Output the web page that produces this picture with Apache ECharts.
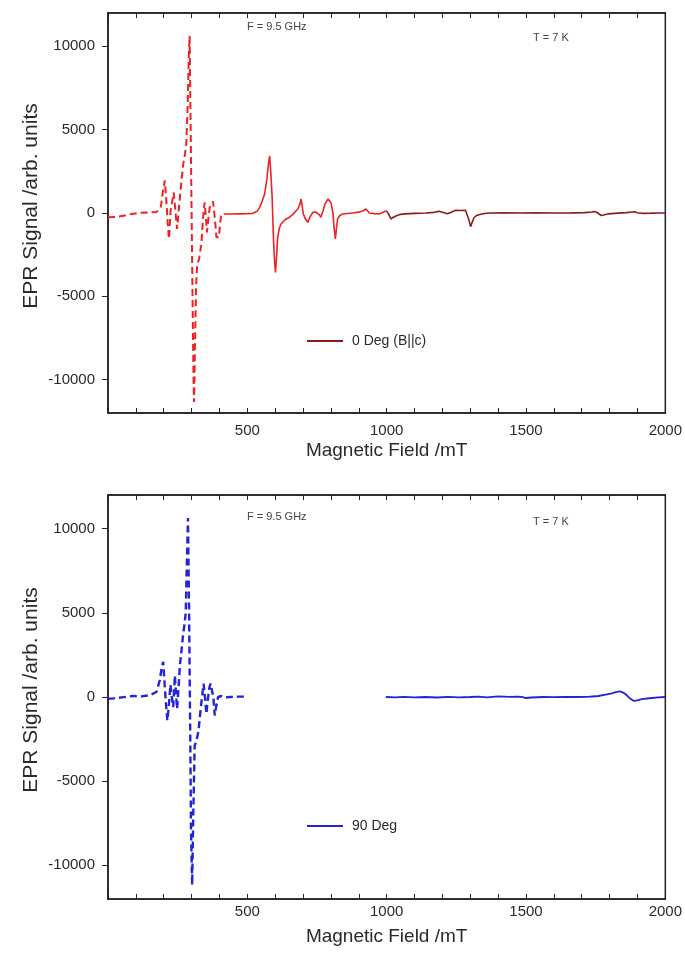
<!DOCTYPE html>
<html>
<head>
<meta charset="utf-8">
<script src="https://cdn.jsdelivr.net/npm/echarts@6/dist/echarts.min.js"></script>
<style>
html,body{margin:0;padding:0;background:#fff;}
#chart{width:685px;height:959px;}
</style>
</head>
<body>
<div id="chart"></div>
<script>
// ---- Data (Magnetic field in mT, EPR signal in arb. units) ----
// Top panel: 0 Deg (B||c)
const topDashField = [0,30,60,90,120,150,175,190,197,204,210,215,219,225,228,236,242,248,253,258,264,270,276,281,286,290,293,296,300,304,307,309,312,316,320,324,327,331,335,340,344,347,351,355,360,365,372,377,380,384,389,394,398,403,407,411,415];
const topDashSignal = [-250,-230,-150,-40,20,30,60,400,1300,1950,600,-800,-1560,200,300,1230,100,-960,0,935,2000,2935,3500,4150,6500,9500,10620,6000,0,-6000,-10000,-11345,-8000,-4500,-3055,-2900,-2755,-2300,-1860,-600,300,635,-200,-1160,-400,335,500,700,635,-400,-1460,-1500,-1460,-500,-100,-160,-60];

const topSolidField = [415,440,470,500,520,535,544,553,562,570,576,580,584,589,594,598,601,605,609,615,621,635,651,665,681,688,693,697,701,708,717,726,735,745,752,758,764,772,778,782,786,790,795,800,804,807,811,816,820,824,832,842,860,878,900,918,926,932,938,955,974,985,997,1000];
const topSolidSignal = [-60,-60,-50,-40,-20,100,335,700,1140,2000,3000,3430,2500,935,-1660,-3000,-3560,-2600,-1460,-900,-660,-400,-260,-50,240,500,840,400,-60,-350,-560,-200,40,60,40,-100,-260,150,500,635,750,840,750,635,300,40,-800,-1560,-900,-360,-150,-60,-30,0,50,150,240,120,0,-40,-60,30,120,110];

const topHighField = [1000,1008,1015,1024,1033,1050,1065,1100,1140,1170,1188,1200,1218,1232,1248,1265,1283,1289,1295,1301,1307,1313,1322,1331,1350,1373,1420,1480,1540,1600,1660,1710,1737,1745,1755,1762,1770,1782,1796,1830,1860,1880,1890,1900,1916,1950,1975,2000];
const topHighSignal = [110,-100,-360,-250,-180,-80,-50,-20,0,40,100,40,-50,50,160,150,160,40,-400,-820,-550,-300,-150,-100,-30,0,10,0,10,0,10,20,60,90,30,-80,-150,-100,-50,-10,20,60,70,20,-20,-10,0,0];

// Bottom panel: 90 Deg
const botDashField = [0,20,50,90,120,150,174,186,193,198,203,208,213,218,224,229,234,240,244,248,253,258,264,269,275,279,283,287,291,295,298,302,306,311,316,321,325,329,336,343,348,353,358,363,368,372,378,383,389,395,407,419,440,470,502];
const botDashSignal = [-100,-80,-20,60,40,100,300,1000,1800,2090,800,-400,-1400,-600,740,0,-600,1280,200,-700,500,1870,2800,3630,4400,5000,8000,10630,5000,-2000,-8000,-11170,-7000,-2880,-2700,-2590,-2000,-1300,-200,790,0,-1000,-200,500,800,850,0,-1100,-500,0,60,-30,0,20,20];

const botSolidField = [997,1030,1060,1100,1140,1180,1220,1260,1300,1331,1360,1400,1440,1470,1485,1500,1520,1560,1600,1640,1680,1720,1760,1790,1808,1825,1838,1850,1862,1874,1886,1900,1915,1935,1951,1975,2000];
const botSolidSignal = [0,-20,10,-20,0,-30,10,-20,0,20,-20,40,10,20,10,-60,-30,0,-10,10,0,10,60,150,220,300,330,250,100,-100,-230,-200,-130,-90,-60,-20,0];

// Axis settings
const yTicks = [-10000,-5000,0,5000,10000];
const xLabelVals = [500,1000,1500,2000];
const fieldMin = 0, fieldMax = 2000, sigMin = -12000, sigMax = 12000;

const topLegend = '0 Deg (B||c)';
const botLegend = '90 Deg';
const freqText = 'F = 9.5 GHz';
const tempText = 'T = 7 K';

function zip(a, b) { return a.map((v, i) => [v, b[i]]); }

const FONT = 'Liberation Sans, Arial, sans-serif';
const TXT = '#2a2a2a';

function xAxes(grid, labelMargin) {
  return [{
    type: 'value', gridIndex: grid, min: fieldMin, max: fieldMax, interval: 100,
    position: 'bottom',
    axisLine: { show: true, onZero: false, lineStyle: { color: '#222', width: 1.5 } },
    axisTick: { show: true, inside: true, length: 5, lineStyle: { color: '#222', width: 1 } },
    axisLabel: { margin: labelMargin, fontSize: 15, color: TXT, fontFamily: FONT,
      formatter: v => xLabelVals.includes(v) ? String(v) : '' },
    splitLine: { show: false },
    name: 'Magnetic Field /mT', nameLocation: 'middle', nameGap: 28,
    nameTextStyle: { fontSize: 19, color: TXT, fontFamily: FONT }
  }, {
    type: 'value', gridIndex: grid, min: fieldMin, max: fieldMax, interval: 100,
    position: 'top',
    axisLine: { show: true, onZero: false, lineStyle: { color: '#222', width: 1.5 } },
    axisTick: { show: true, inside: true, length: 5, lineStyle: { color: '#222', width: 1 } },
    axisLabel: { show: false }, splitLine: { show: false }
  }];
}

function yAxis(grid) {
  return {
    type: 'value', gridIndex: grid, min: sigMin, max: sigMax,
    axisLine: { show: true, onZero: false, lineStyle: { color: '#222', width: 1.5 } },
    axisTick: { show: true, inside: false, length: 6, customValues: yTicks, lineStyle: { color: '#222', width: 1 } },
    axisLabel: { margin: 13, fontSize: 15, color: TXT, fontFamily: FONT, customValues: yTicks,
      formatter: v => String(v) },
    splitLine: { show: false },
    name: 'EPR Signal /arb. units', nameLocation: 'middle', nameGap: 66, nameRotate: 90,
    nameMoveOverlap: false,
    nameTextStyle: { fontSize: 21, color: TXT, fontFamily: FONT, padding: [0, 0, 0, 14] }
  };
}

const chart = echarts.init(document.getElementById('chart'), null, { renderer: 'canvas' });

const legendBase = {
  icon: 'rect', itemWidth: 36, itemHeight: 2, padding: 0,
  textStyle: { fontSize: 14, color: TXT, fontFamily: FONT, padding: [0, 0, 0, 4] }
};

const option = {
  animation: false,
  backgroundColor: '#fff',
  grid: [
    { left: 108, top: 13, width: 559, height: 400, show: true, borderColor: '#222', borderWidth: 1.5, containLabel: false },
    { left: 108, top: 495, width: 559, height: 404, show: true, borderColor: '#222', borderWidth: 1.5, containLabel: false }
  ],
  xAxis: [...xAxes(0, 10), ...xAxes(1, 5)],
  yAxis: [yAxis(0), yAxis(1)],
  legend: [
    Object.assign({ data: [topLegend], left: 307, top: 334 }, legendBase),
    Object.assign({ data: [botLegend], left: 307, top: 819 }, legendBase)
  ],
  graphic: [
    { type: 'text', left: 247, top: 21, style: { text: freqText, fontSize: 11, fill: '#444', fontFamily: FONT } },
    { type: 'text', left: 533, top: 32, style: { text: tempText, fontSize: 11, fill: '#444', fontFamily: FONT } },
    { type: 'text', left: 247, top: 511, style: { text: freqText, fontSize: 11, fill: '#444', fontFamily: FONT } },
    { type: 'text', left: 533, top: 516, style: { text: tempText, fontSize: 11, fill: '#444', fontFamily: FONT } }
  ],
  series: [
    { name: 'top-dash', type: 'line', xAxisIndex: 0, yAxisIndex: 0, symbol: 'none', smooth: false,
      data: zip(topDashField, topDashSignal), lineStyle: { color: '#ee2222', width: 2, type: [7, 4] }, itemStyle: { color: '#ee2222' } },
    { name: 'top-solid', type: 'line', xAxisIndex: 0, yAxisIndex: 0, symbol: 'none',
      data: zip(topSolidField, topSolidSignal), lineStyle: { color: '#ee2222', width: 1.6 }, itemStyle: { color: '#ee2222' } },
    { name: topLegend, type: 'line', xAxisIndex: 0, yAxisIndex: 0, symbol: 'none',
      data: zip(topHighField, topHighSignal), lineStyle: { color: '#8b1a1a', width: 1.6 }, itemStyle: { color: '#8b1a1a' } },
    { name: 'bot-dash', type: 'line', xAxisIndex: 2, yAxisIndex: 1, symbol: 'none',
      data: zip(botDashField, botDashSignal), lineStyle: { color: '#2323d8', width: 2.4, type: [7, 4] }, itemStyle: { color: '#2323d8' } },
    { name: botLegend, type: 'line', xAxisIndex: 2, yAxisIndex: 1, symbol: 'none',
      data: zip(botSolidField, botSolidSignal), lineStyle: { color: '#2323d8', width: 1.8 }, itemStyle: { color: '#2323d8' } }
  ]
};
chart.setOption(option);
</script>
</body>
</html>
